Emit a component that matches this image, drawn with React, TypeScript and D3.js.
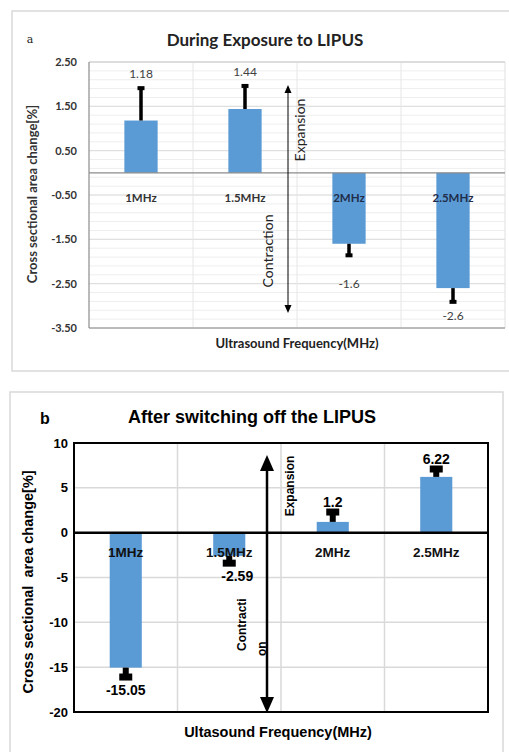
import React from "react";
import * as d3 from "d3";

// ---------- Data ----------
const categories = ["1MHz", "1.5MHz", "2MHz", "2.5MHz"];

// Panel a: during exposure
const valuesA = [1.18, 1.44, -1.6, -2.6];
const errEndA = [1.91, 1.96, -1.86, -2.91];
const labelsA = ["1.18", "1.44", "-1.6", "-2.6"];
const labelAtA = [2.24, 2.27, -2.5, -3.23];
const ticksA = [2.5, 1.5, 0.5, -0.5, -1.5, -2.5, -3.5];

// Panel b: after switching off
const valuesB = [-15.05, -2.59, 1.2, 6.22];
const errEndB = [-16.1, -3.4, 2.3, 7.1];
const labelsB = ["-15.05", "-2.59", "1.2", "6.22"];
const ticksB = [10, 5, 0, -5, -10, -15, -20];

const BAR = "#5b9bd5";
const FA = "Lato, 'Open Sans', sans-serif";
const FB = "'Liberation Sans', Arial, sans-serif";

function PanelA() {
  const y = d3.scaleLinear().domain([-3.5, 2.5]).range([328, 62]);
  const x = d3.scaleBand<string>().domain(categories).range([89, 505]);
  const bw = x.bandwidth() * 0.32;
  const minor = d3.range(-3.5, 2.5001, 0.2);
  const y0 = y(0);
  return (
    <g>
      <rect x={12} y={11} width={520} height={360} fill="#fff" stroke="#d9d9d9" strokeWidth={1.5} />
      {minor.map((v, i) => (
        <line key={"m" + i} x1={89} x2={505} y1={y(v)} y2={y(v)} stroke="#eeeeee" strokeWidth={1} />
      ))}
      {ticksA.map((t) => (
        <line key={"g" + t} x1={89} x2={505} y1={y(t)} y2={y(t)} stroke="#dcdcdc" strokeWidth={1} />
      ))}
      {categories.slice(1).map((c) => (
        <line key={"v" + c} x1={x(c)!} x2={x(c)!} y1={62} y2={328} stroke="#e6e6e6" strokeWidth={1} />
      ))}
      <line x1={505} x2={505} y1={62} y2={328} stroke="#e0e0e0" />
      <line x1={89} x2={505} y1={62} y2={62} stroke="#d0d0d0" />
      {/* bars */}
      {valuesA.map((v, i) => {
        const cx = x(categories[i])! + x.bandwidth() / 2;
        return (
          <rect key={"b" + i} x={cx - bw / 2} width={bw} y={Math.min(y(v), y0)} height={Math.abs(y(v) - y0)} fill={BAR} />
        );
      })}
      {/* zero line and axes */}
      <line x1={89} x2={505} y1={y0} y2={y0} stroke="#8c8c8c" strokeWidth={1.2} />
      <line x1={89} x2={89} y1={62} y2={328} stroke="#8c8c8c" strokeWidth={1.2} />
      <line x1={89} x2={505} y1={328} y2={328} stroke="#8c8c8c" strokeWidth={1.2} />
      {/* error bars */}
      {valuesA.map((v, i) => {
        const cx = x(categories[i])! + x.bandwidth() / 2;
        return (
          <g key={"e" + i}>
            <line x1={cx} x2={cx} y1={y(v)} y2={y(errEndA[i])} stroke="#000" strokeWidth={3.5} />
            <rect x={cx - 3.5} width={7} y={y(errEndA[i]) - 2} height={4} fill="#000" />
          </g>
        );
      })}
      {/* value labels */}
      {labelsA.map((l, i) => (
        <text key={"l" + i} x={x(categories[i])! + x.bandwidth() / 2} y={y(labelAtA[i])} dy="0.35em" textAnchor="middle" fontFamily={FA} fontSize={12} fill="#404040">
          {l}
        </text>
      ))}
      {/* category labels */}
      {categories.map((c) => (
        <text key={"c" + c} x={x(c)! + x.bandwidth() / 2} y={y(-0.57)} dy="0.35em" textAnchor="middle" fontFamily={FA} fontSize={11.5} fontWeight={700} fill={c === "2MHz" || c === "2.5MHz" ? "#1f2d4a" : "#333"}>
          {c}
        </text>
      ))}
      {/* y ticks */}
      {ticksA.map((t) => (
        <text key={"t" + t} x={77} y={y(t)} dy="0.35em" textAnchor="end" fontFamily={FA} fontSize={11} fontWeight={700} fill="#333">
          {t.toFixed(2)}
        </text>
      ))}
      {/* arrow */}
      <line x1={288} x2={288} y1={92} y2={306} stroke="#000" strokeWidth={1} />
      <path d={`M288,85 L284.5,93 L291.5,93 Z`} fill="#000" />
      <path d={`M288,313 L284.5,305 L291.5,305 Z`} fill="#000" />
      <text transform="translate(300,130) rotate(-90)" dy="0.35em" textAnchor="middle" fontFamily={FA} fontSize={14} fill="#222">
        Expansion
      </text>
      <text transform="translate(268,251) rotate(-90)" dy="0.35em" textAnchor="middle" fontFamily={FA} fontSize={14} fill="#222">
        Contraction
      </text>
      {/* titles */}
      <text x={265} y={40} dy="0.35em" textAnchor="middle" fontFamily={FA} fontSize={17} fontWeight={700} fill="#222">
        During Exposure to LIPUS
      </text>
      <text x={30} y={39} dy="0.35em" textAnchor="middle" fontFamily="'DejaVu Serif', serif" fontSize={11} fill="#222">
        a
      </text>
      <text transform="translate(32,194) rotate(-90)" dy="0.35em" textAnchor="middle" fontFamily={FA} fontSize={13} fontWeight={700} fill="#333">
        Cross sectional area change[%]
      </text>
      <text x={297} y={343} dy="0.35em" textAnchor="middle" fontFamily={FA} fontSize={13} fontWeight={700} fill="#222">
        Ultrasound Frequency(MHz)
      </text>
    </g>
  );
}

function PanelB() {
  const y = d3.scaleLinear().domain([-20, 10]).range([712, 443]);
  const x = d3.scaleBand<string>().domain(categories).range([74, 488]);
  const bw = x.bandwidth() * 0.31;
  const y0 = y(0);
  return (
    <g>
      <rect x={10} y={392} width={493} height={370} fill="#fff" stroke="#d9d9d9" strokeWidth={1.5} />
      {ticksB.filter((t) => t !== 0 && t !== 10 && t !== -20).map((t) => (
        <line key={"g" + t} x1={74} x2={488} y1={y(t)} y2={y(t)} stroke="#d9d9d9" strokeWidth={1.5} />
      ))}
      {categories.slice(1).map((c) => (
        <line key={"v" + c} x1={x(c)!} x2={x(c)!} y1={443} y2={712} stroke="#d9d9d9" strokeWidth={1.5} />
      ))}
      {valuesB.map((v, i) => {
        const cx = x(categories[i])! + x.bandwidth() / 2;
        return (
          <rect key={"b" + i} x={cx - bw / 2} width={bw} y={Math.min(y(v), y0)} height={Math.abs(y(v) - y0)} fill={BAR} />
        );
      })}
      <rect x={74} y={443} width={414} height={269} fill="none" stroke="#000" strokeWidth={2} />
      <line x1={74} x2={488} y1={y0} y2={y0} stroke="#000" strokeWidth={2.5} />
      {valuesB.map((v, i) => {
        const cx = x(categories[i])! + x.bandwidth() / 2;
        const ye = y(errEndB[i]);
        return (
          <g key={"e" + i}>
            <line x1={cx} x2={cx} y1={y(v)} y2={ye} stroke="#000" strokeWidth={6} />
            <rect x={cx - 6.5} width={13} y={ye - 3.5} height={7} fill="#000" />
          </g>
        );
      })}
      {labelsB.map((l, i) => {
        const ye = y(errEndB[i]);
        const neg = valuesB[i] < 0;
        return (
          <text key={"l" + i} x={x(categories[i])! + x.bandwidth() / 2 + (i === 1 ? 8 : 0)} y={neg ? ye + 13 : ye - 10} dy="0.35em" textAnchor="middle" fontFamily={FB} fontSize={14} fontWeight={700} fill="#000">
            {l}
          </text>
        );
      })}
      {categories.map((c) => (
        <text key={"c" + c} x={x(c)! + x.bandwidth() / 2} y={y(-2.2)} dy="0.35em" textAnchor="middle" fontFamily={FB} fontSize={13.5} fontWeight={700} fill="#111">
          {c}
        </text>
      ))}
      {ticksB.map((t) => (
        <text key={"t" + t} x={68} y={y(t)} dy="0.35em" textAnchor="end" fontFamily={FB} fontSize={13} fontWeight={700} fill="#000">
          {t}
        </text>
      ))}
      {/* arrow */}
      <line x1={267} x2={267} y1={465} y2={700} stroke="#000" strokeWidth={2.5} />
      <path d={`M267,455 L260,471 L274,471 Z`} fill="#000" />
      <path d={`M267,713 L260,697 L274,697 Z`} fill="#000" />
      <text transform="translate(290,486) rotate(-90)" dy="0.35em" textAnchor="middle" fontFamily={FB} fontSize={12} fontWeight={700} fill="#000">
        Expansion
      </text>
      <text transform="translate(242,651) rotate(-90)" dy="0.35em" textAnchor="start" fontFamily={FB} fontSize={12} fontWeight={700} fill="#000">
        Contracti
      </text>
      <text transform="translate(262,656) rotate(-90)" dy="0.35em" textAnchor="start" fontFamily={FB} fontSize={12} fontWeight={700} fill="#000">
        on
      </text>
      <text x={252} y={417} dy="0.35em" textAnchor="middle" fontFamily={FB} fontSize={18} fontWeight={700} fill="#000">
        After switching off the LIPUS
      </text>
      <text x={45} y={418} dy="0.35em" textAnchor="middle" fontFamily={FB} fontSize={16} fontWeight={700} fill="#000">
        b
      </text>
      <text transform="translate(28,582) rotate(-90)" dy="0.35em" textAnchor="middle" fontFamily={FB} fontSize={14.5} fontWeight={700} fill="#000" style={{ whiteSpace: "pre" }}>
        {"Cross sectional  area change[%]"}
      </text>
      <text x={278} y={732} dy="0.35em" textAnchor="middle" fontFamily={FB} fontSize={14.5} fontWeight={700} fill="#000">
        Ultasound Frequency(MHz)
      </text>
    </g>
  );
}

export default function App() {
  return (
    <svg width={509} height={752} style={{ position: "absolute", left: 0, top: 0, background: "#fff" }}>
      <rect x={0} y={0} width={509} height={752} fill="#fff" />
      <PanelA />
      <PanelB />
    </svg>
  );
}
